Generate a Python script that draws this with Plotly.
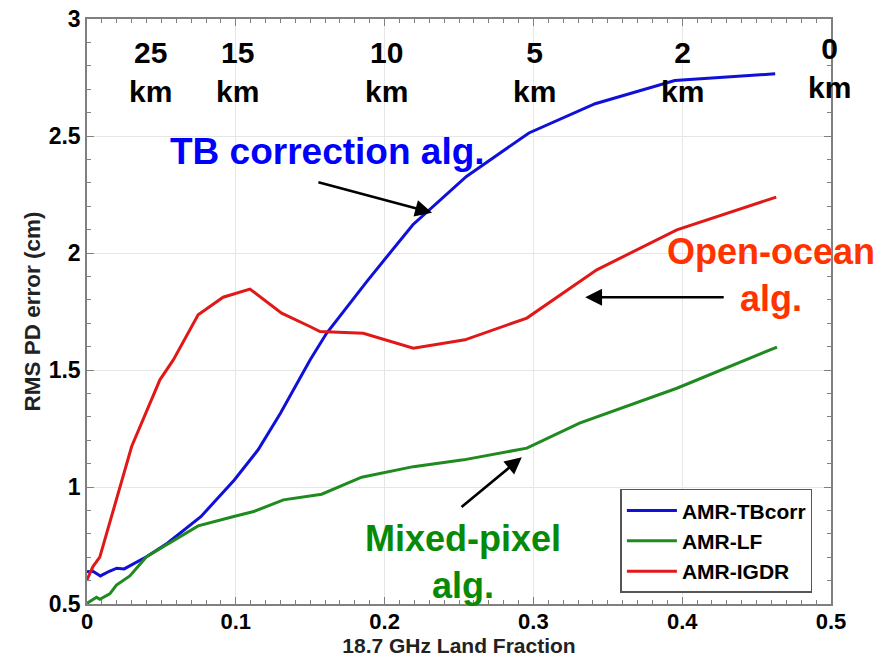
import plotly.graph_objects as go

# ---- data ----
tb_x = [0, 0.004, 0.009, 0.015, 0.020, 0.025, 0.040, 0.054, 0.0765, 0.099, 0.115,
        0.130, 0.150, 0.161, 0.188, 0.219, 0.255, 0.297, 0.3415, 0.395, 0.4625]
tb_y = [0.638, 0.640, 0.620, 0.640, 0.653, 0.650, 0.702, 0.760, 0.873, 1.030, 1.159,
        1.315, 1.544, 1.657, 1.878, 2.121, 2.327, 2.513, 2.638, 2.737, 2.766]

lf_x = [0, 0.0064, 0.0086, 0.0153, 0.0198, 0.0288, 0.040, 0.0535, 0.0747, 0.098, 0.112,
        0.132, 0.1577, 0.1846, 0.2193, 0.253, 0.2956, 0.331, 0.3964, 0.4637]
lf_y = [0.503, 0.529, 0.520, 0.543, 0.581, 0.620, 0.702, 0.752, 0.834, 0.873, 0.895,
        0.945, 0.969, 1.042, 1.087, 1.116, 1.166, 1.273, 1.422, 1.598]

igdr_x = [0, 0.004, 0.0086, 0.0153, 0.030, 0.049, 0.058, 0.0747, 0.0915, 0.1095, 0.1308,
          0.1498, 0.1566, 0.1857, 0.2193, 0.254, 0.2956, 0.3426, 0.3964, 0.4632]
igdr_y = [0.603, 0.660, 0.700, 0.850, 1.173, 1.458, 1.543, 1.736, 1.811, 1.846, 1.743,
          1.686, 1.664, 1.657, 1.593, 1.629, 1.722, 1.928, 2.099, 2.239]

series_names = ["AMR-TBcorr", "AMR-LF", "AMR-IGDR"]

km_labels = ["25", "15", "10", "5", "2", "0"]
km_x = [0.043, 0.101, 0.201, 0.3005, 0.4005, 0.499]
km_y = [2.775, 2.775, 2.775, 2.775, 2.775, 2.792]

FONT = "Liberation Sans, Arial, sans-serif"

fig = go.Figure()
fig.add_trace(go.Scatter(x=tb_x, y=tb_y, mode="lines", name=series_names[0],
                         line=dict(color="#1010d8", width=3)))
fig.add_trace(go.Scatter(x=lf_x, y=lf_y, mode="lines", name=series_names[1],
                         line=dict(color="#1f8a1f", width=3)))
fig.add_trace(go.Scatter(x=igdr_x, y=igdr_y, mode="lines", name=series_names[2],
                         line=dict(color="#e01818", width=3)))

annotations = []
for lab, xx, yy in zip(km_labels, km_x, km_y):
    annotations.append(dict(x=xx, y=yy, xref="x", yref="y", text=f"<b>{lab}<br>km</b>",
                            showarrow=False, font=dict(family=FONT, size=30, color="black"),
                            xanchor="center", yanchor="middle"))

annotations += [
    dict(x=0.1616, y=2.433, xref="x", yref="y", text="<b>TB correction alg.</b>",
         showarrow=False, font=dict(family=FONT, size=37, color="#0000ff")),
    dict(x=0.46, y=1.907, xref="x", yref="y", text="<b>Open-ocean<br>alg.</b>",
         showarrow=False, font=dict(family=FONT, size=36, color="#ff3300")),
    dict(x=0.2527, y=0.678, xref="x", yref="y", text="<b>Mixed-pixel<br>alg.</b>",
         showarrow=False, font=dict(family=FONT, size=36, color="#078a07")),
]

arrows = [
    (0.2319, 2.172, 0.1545, 2.304),
    (0.3348, 1.811, 0.4289, 1.811),
    (0.2922, 1.127, 0.2507, 0.909),
]
for x1, y1, x0, y0 in arrows:
    annotations.append(dict(x=x1, y=y1, ax=x0, ay=y0, xref="x", yref="y", axref="x", ayref="y",
                            text="", showarrow=True, arrowhead=2, arrowsize=1.3,
                            arrowwidth=2.6, arrowcolor="black", standoff=0, startstandoff=0))

axis_common = dict(
    showline=True, linecolor="#808080", linewidth=1.5, mirror="ticks",
    ticks="inside", ticklen=7, tickwidth=1.2, tickcolor="#808080",
    showgrid=True, gridcolor="#e6e6e6", gridwidth=1,
    zeroline=False, automargin=False,
)

fig.update_xaxes(range=[0, 0.5], dtick=0.1,
                 minor=dict(dtick=0.01, ticks="inside", ticklen=4, tickcolor="#808080", showgrid=False),
                 tickfont=dict(family=FONT, size=22, color="black", weight="bold"),
                 ticklabelstandoff=-3,
                 title=dict(text="<b>18.7 GHz Land Fraction</b>", font=dict(family=FONT, size=21, color="#222"),
                            standoff=0),
                 **axis_common)
fig.update_yaxes(range=[0.5, 3], dtick=0.5,
                 minor=dict(dtick=0.1, ticks="inside", ticklen=4, tickcolor="#808080", showgrid=False),
                 tickfont=dict(family=FONT, size=23, color="black", weight="bold"),
                 title=dict(text="<b>RMS PD error (cm)</b>", font=dict(family=FONT, size=22.5, color="#222"),
                            standoff=2),
                 **axis_common)

fig.update_layout(
    width=887, height=660,
    margin=dict(l=87, r=56, t=19, b=56),
    plot_bgcolor="white", paper_bgcolor="white",
    annotations=annotations,
    legend=dict(x=0.975, y=0.019, xanchor="right", yanchor="bottom",
                bgcolor="white", bordercolor="#555", borderwidth=1.5,
                font=dict(family=FONT, size=21, color="black", weight="bold"),
                tracegroupgap=0, itemwidth=50),
    showlegend=True,
)

fig.write_html("out.html")
